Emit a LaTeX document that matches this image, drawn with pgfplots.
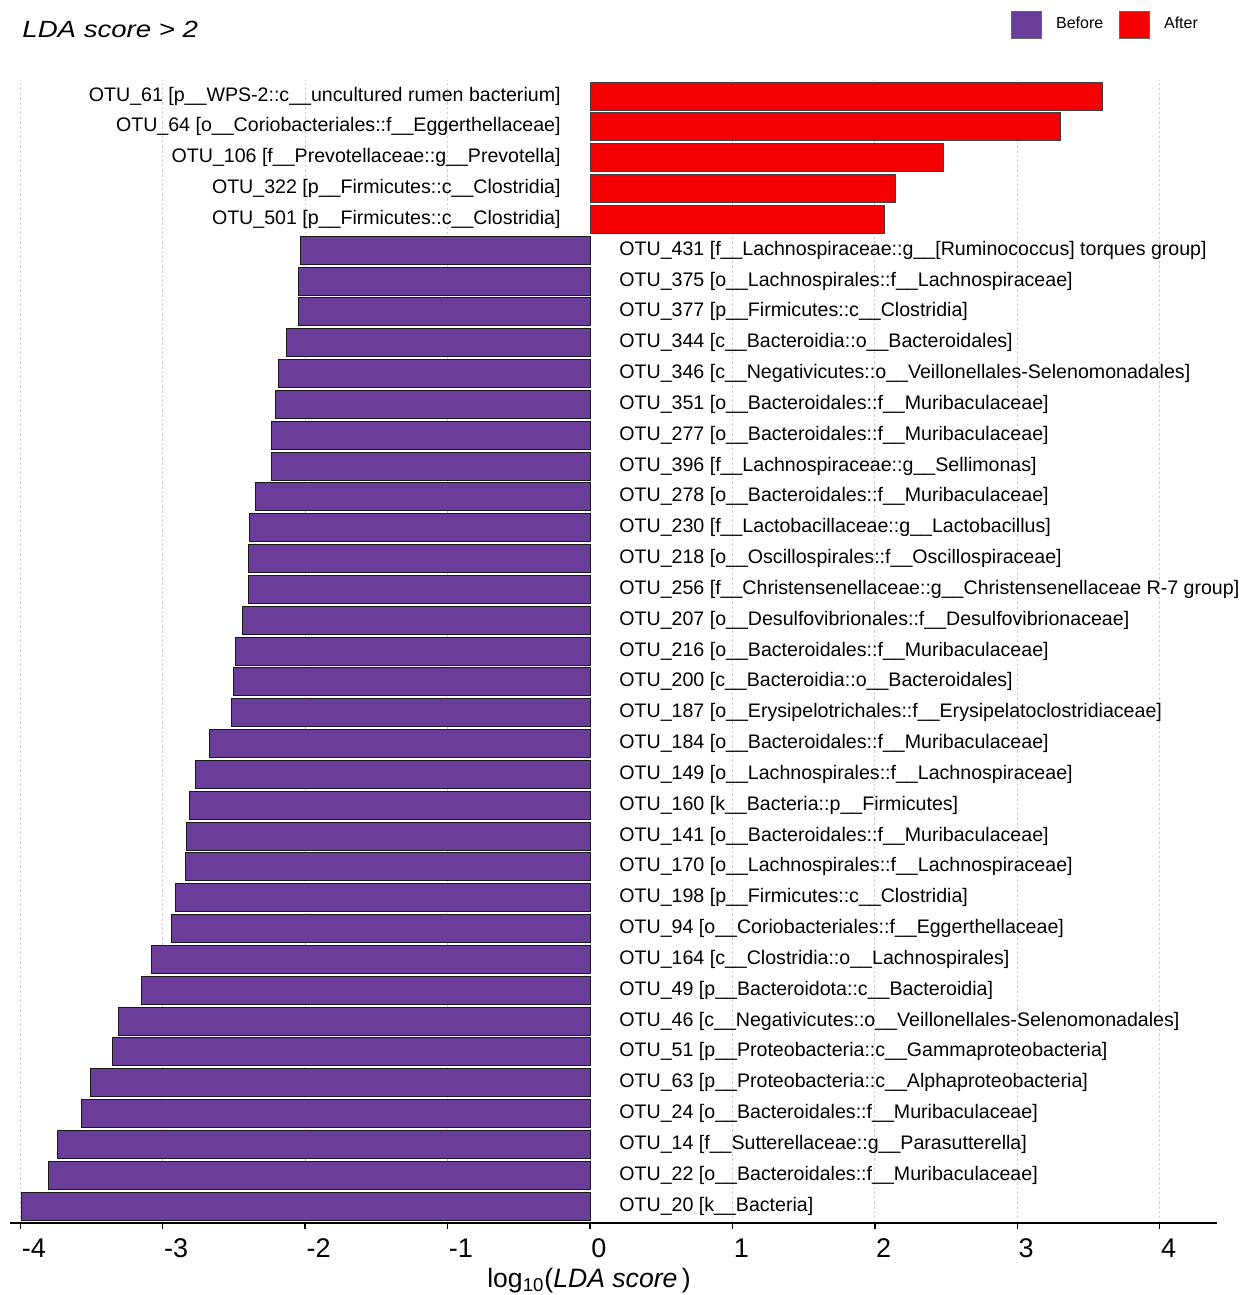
\documentclass[border=0pt]{standalone}
\usepackage{fontspec}
\setmainfont{Liberation Sans}
\usepackage{graphicx}
\usepackage{pgfplots}
\usepackage{pgfplotstable}
\pgfplotsset{compat=1.18}
\definecolor{cbefore}{HTML}{6A3D9A}
\definecolor{cafter}{RGB}{245,0,0}
\newcommand{\labfont}{\fontsize{9.8}{11}\selectfont}

\pgfplotstableread[col sep=semicolon, row sep=\\]{
y;v;z;lab\\
36;3.60;0;{OTU\_61 [p\_\_WPS-2::c\_\_uncultured rumen bacterium]}\\
35;3.305;0;{OTU\_64 [o\_\_Coriobacteriales::f\_\_Eggerthellaceae]}\\
34;2.48;0;{OTU\_106 [f\_\_Prevotellaceae::g\_\_Prevotella]}\\
33;2.147;0;{OTU\_322 [p\_\_Firmicutes::c\_\_Clostridia]}\\
32;2.07;0;{OTU\_501 [p\_\_Firmicutes::c\_\_Clostridia]}\\
}\afterdata

\pgfplotstableread[col sep=semicolon, row sep=\\]{
y;v;z;lab\\
31;-2.03;0;{OTU\_431 [f\_\_Lachnospiraceae::g\_\_[Ruminococcus] torques group]}\\
30;-2.05;0;{OTU\_375 [o\_\_Lachnospirales::f\_\_Lachnospiraceae]}\\
29;-2.05;0;{OTU\_377 [p\_\_Firmicutes::c\_\_Clostridia]}\\
28;-2.13;0;{OTU\_344 [c\_\_Bacteroidia::o\_\_Bacteroidales]}\\
27;-2.19;0;{OTU\_346 [c\_\_Negativicutes::o\_\_Veillonellales-Selenomonadales]}\\
26;-2.21;0;{OTU\_351 [o\_\_Bacteroidales::f\_\_Muribaculaceae]}\\
25;-2.24;0;{OTU\_277 [o\_\_Bacteroidales::f\_\_Muribaculaceae]}\\
24;-2.24;0;{OTU\_396 [f\_\_Lachnospiraceae::g\_\_Sellimonas]}\\
23;-2.35;0;{OTU\_278 [o\_\_Bacteroidales::f\_\_Muribaculaceae]}\\
22;-2.39;0;{OTU\_230 [f\_\_Lactobacillaceae::g\_\_Lactobacillus]}\\
21;-2.40;0;{OTU\_218 [o\_\_Oscillospirales::f\_\_Oscillospiraceae]}\\
20;-2.40;0;{OTU\_256 [f\_\_Christensenellaceae::g\_\_Christensenellaceae R-7 group]}\\
19;-2.44;0;{OTU\_207 [o\_\_Desulfovibrionales::f\_\_Desulfovibrionaceae]}\\
18;-2.49;0;{OTU\_216 [o\_\_Bacteroidales::f\_\_Muribaculaceae]}\\
17;-2.50;0;{OTU\_200 [c\_\_Bacteroidia::o\_\_Bacteroidales]}\\
16;-2.52;0;{OTU\_187 [o\_\_Erysipelotrichales::f\_\_Erysipelatoclostridiaceae]}\\
15;-2.67;0;{OTU\_184 [o\_\_Bacteroidales::f\_\_Muribaculaceae]}\\
14;-2.77;0;{OTU\_149 [o\_\_Lachnospirales::f\_\_Lachnospiraceae]}\\
13;-2.81;0;{OTU\_160 [k\_\_Bacteria::p\_\_Firmicutes]}\\
12;-2.83;0;{OTU\_141 [o\_\_Bacteroidales::f\_\_Muribaculaceae]}\\
11;-2.84;0;{OTU\_170 [o\_\_Lachnospirales::f\_\_Lachnospiraceae]}\\
10;-2.91;0;{OTU\_198 [p\_\_Firmicutes::c\_\_Clostridia]}\\
9;-2.94;0;{OTU\_94 [o\_\_Coriobacteriales::f\_\_Eggerthellaceae]}\\
8;-3.08;0;{OTU\_164 [c\_\_Clostridia::o\_\_Lachnospirales]}\\
7;-3.15;0;{OTU\_49 [p\_\_Bacteroidota::c\_\_Bacteroidia]}\\
6;-3.31;0;{OTU\_46 [c\_\_Negativicutes::o\_\_Veillonellales-Selenomonadales]}\\
5;-3.35;0;{OTU\_51 [p\_\_Proteobacteria::c\_\_Gammaproteobacteria]}\\
4;-3.51;0;{OTU\_63 [p\_\_Proteobacteria::c\_\_Alphaproteobacteria]}\\
3;-3.57;0;{OTU\_24 [o\_\_Bacteroidales::f\_\_Muribaculaceae]}\\
2;-3.74;0;{OTU\_14 [f\_\_Sutterellaceae::g\_\_Parasutterella]}\\
1;-3.80;0;{OTU\_22 [o\_\_Bacteroidales::f\_\_Muribaculaceae]}\\
0;-3.99;0;{OTU\_20 [k\_\_Bacteria]}\\
}\beforedata

\begin{document}
\begin{tikzpicture}
\begin{axis}[
  at={(0,0)}, anchor=south west,
  scale only axis,
  width=603.1pt, height=571.5pt,
  xmin=-4.07, xmax=4.40,
  ymin=-0.55, ymax=36.52,
  axis x line*=bottom,
  axis y line=none,
  x axis line style={black, line width=0.9pt},
  xtick={-4,-3,-2,-1,0,1,2,3,4},
  xticklabels={-4,-3,-2,-1,0,1,2,3,4},
  xticklabel style={anchor=base west, yshift=-14pt, xshift=0.5pt, inner sep=0pt, font=\fontsize{13.5}{15}\selectfont},
  tick align=outside,
  major tick length=3pt,
  xtick style={black, line width=0.7pt},
  ytick=\empty,
  xmajorgrids,
  grid style={draw=gray!40, dash pattern=on 1.2pt off 1.2pt, line width=0.4pt},
  xlabel={log\textsubscript{10}(\textit{LDA score}\,)},
  xlabel style={at={(axis description cs:0.4797,0)}, anchor=base, yshift=-32pt, inner sep=0pt, font=\fontsize{13.3}{15}\selectfont},
  legend columns=2,
  legend cell align=left,
  legend style={draw=none, fill=none, at={(axis description cs:0.8295,1.0485)}, anchor=west, inner sep=0pt,
    font=\fontsize{8}{9}\selectfont,
    /tikz/every odd column/.append style={column sep=5pt},
    /tikz/every even column/.append style={column sep=6pt}},
  clip=false,
]
\addplot[xbar, bar shift=0pt, bar width=14pt, fill=cbefore, draw=black!90, line width=0.5pt,
  legend image code/.code={\draw[fill=cbefore, draw=black!60, line width=0.4pt] (0pt,-6.75pt) rectangle (15pt,6.75pt);}]
  table[x=v, y=y]{\beforedata};
\addlegendentry{Before}
\addplot[xbar, bar shift=0pt, bar width=14pt, fill=cafter, draw=black!75, line width=0.5pt,
  legend image code/.code={\draw[fill=cafter, draw=black!60, line width=0.4pt] (0pt,-6.75pt) rectangle (15pt,6.75pt);}]
  table[x=v, y=y]{\afterdata};
\addlegendentry{After}

\addplot[draw=none, forget plot, nodes near coords, point meta=explicit symbolic,
  every node near coord/.append style={anchor=east, xshift=-14.5pt, inner sep=0pt, font=\labfont, text=black}]
  table[x=z, y=y, meta=lab]{\afterdata};
\addplot[draw=none, forget plot, nodes near coords, point meta=explicit symbolic,
  every node near coord/.append style={anchor=west, xshift=14.5pt, inner sep=0pt, font=\labfont, text=black}]
  table[x=z, y=y, meta=lab]{\beforedata};
\end{axis}
\node[anchor=base west, inner sep=0pt] at (5.8pt,592.5pt) {\scalebox{1.18}[1]{\fontsize{11.7}{13}\selectfont\itshape LDA score > 2}};
\pgfresetboundingbox
\path[use as bounding box] (-5.2pt,-36pt) rectangle (615.3pt,611.5pt);
\end{tikzpicture}
\end{document}
